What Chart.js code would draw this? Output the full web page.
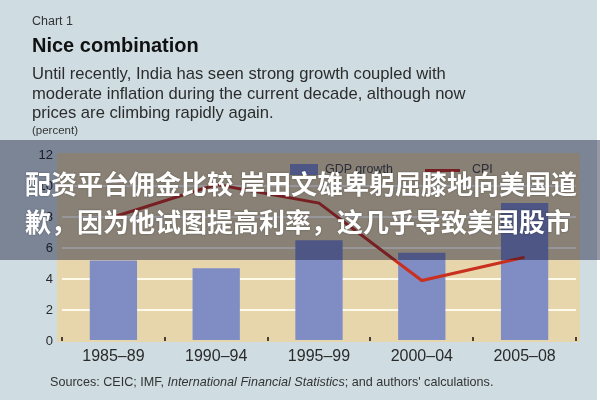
<!DOCTYPE html>
<html>
<head>
<meta charset="utf-8">
<script src="https://cdn.jsdelivr.net/npm/chart.js@4"></script>
<style>
    html, body { margin: 0; padding: 0; background: #ffffff; }
    #frame {
        position: relative;
        width: 597px;
        height: 400px;
        background: #cfdde3;
        font-family: "Liberation Sans", Arial, sans-serif;
        color: #2a2a2a;
        overflow: visible;
    }
    #frame canvas { position: absolute; left: 0; top: 0; }
    .txt { position: absolute; left: 32px; white-space: nowrap; }
    #kicker { top: 14px; font-size: 12.5px; color: #333; }
    #title { top: 34px; font-size: 20px; font-weight: bold; color: #111; }
    #desc { top: 64px; font-size: 16.6px; line-height: 19.5px; color: #2c2c2c; }
    #unit { top: 124px; font-size: 11.5px; color: #333; }
    #sources { top: 375px; left: 50px; font-size: 12.6px; color: #333; }
    #legend { position: absolute; top: 163px; left: 290px; font-size: 12.5px; color: #444; }
    #legend span { position: absolute; white-space: nowrap; }
    #overlay {
        position: absolute;
        left: 0; top: 140px;
        width: 600px; height: 120px;
        background: rgba(8, 12, 42, 0.42);
    }
    .cn {
        position: absolute;
        left: 25px;
        font-family: "Noto Sans CJK SC", sans-serif;
        font-weight: bold;
        font-size: 26px;
        color: #ffffff;
        white-space: nowrap;
        text-shadow: 0 0 2px rgba(0, 0, 0, 0.35);
    }
</style>
</head>
<body>
<div id="frame">
    <canvas id="mainChart" width="600" height="400"></canvas>
    <div class="txt" id="kicker">Chart 1</div>
    <div class="txt" id="title">Nice combination</div>
    <div class="txt" id="desc">Until recently, India has seen strong growth coupled with<br>moderate inflation during the current decade, although now<br>prices are climbing rapidly again.</div>
    <div class="txt" id="unit">(percent)</div>
    <div id="legend">
        <span style="left:0;top:1px;width:28px;height:11px;background:#808cc4"></span>
        <span style="left:35px;top:-1px">GDP growth</span>
        <span style="left:135px;top:6px;width:35px;height:3px;background:#c9301f"></span>
        <span style="left:182px;top:-1px">CPI</span>
    </div>
    <div class="txt" id="sources">Sources: CEIC; IMF, <i>International Financial Statistics</i>; and authors' calculations.</div>
    <div id="overlay">
        <div class="cn" style="top:24px">配资平台佣金比较 岸田文雄卑躬屈膝地向美国道</div>
        <div class="cn" style="top:62px">歉，因为他试图提高利率，这几乎导致美国股市</div>
    </div>
</div>
<script>
const periods = ["1985–89", "1990–94", "1995–99", "2000–04", "2005–08"];
const gdpGrowth = [5.2, 4.7, 6.5, 5.7, 8.9];
const cpi = [8.0, 10.1, 8.9, 3.9, 5.4];
const yTicks = { min: 0, max: 12, step: 2 };

// beige plot panel behind everything
const panelBackground = {
    id: "panelBackground",
    beforeDraw(chart) {
        const { ctx, chartArea } = chart;
        ctx.save();
        ctx.fillStyle = "#e7d6ab";
        ctx.fillRect(chartArea.left - 5, chartArea.top - 2, chartArea.right - chartArea.left + 9, chartArea.bottom - chartArea.top + 3);
        ctx.restore();
    },
};

// small marks between categories on the baseline
const categoryMarks = {
    id: "categoryMarks",
    afterDatasetsDraw(chart) {
        const { ctx, chartArea } = chart;
        const xScale = chart.scales.x;
        ctx.save();
        ctx.fillStyle = "#4a3f33";
        for (let i = 0; i <= periods.length; i++) {
            const x = xScale.getPixelForValue(i - 0.5);
            ctx.fillRect(Math.round(x) - 1, chartArea.bottom - 4, 2, 4);
        }
        ctx.restore();
    },
};

new Chart(document.getElementById("mainChart"), {
    data: {
        labels: periods,
        datasets: [
            {
                type: "line",
                label: "CPI",
                data: cpi,
                borderColor: "#c9301f",
                borderWidth: 3,
                pointRadius: 0,
                tension: 0,
                order: 0,
            },
            {
                type: "bar",
                label: "GDP growth",
                data: gdpGrowth,
                backgroundColor: "#808cc4",
                barPercentage: 0.46,
                categoryPercentage: 1,
                order: 1,
            },
        ],
    },
    options: {
        responsive: false,
        animation: false,
        layout: { padding: { top: 155, right: 24, bottom: 34, left: 0 } },
        plugins: { legend: { display: false }, tooltip: { enabled: false } },
        scales: {
            x: {
                offset: true,
                grid: { display: false, drawTicks: false },
                border: { display: false },
                ticks: { padding: 6, color: "#2a2a2a", font: { family: "Liberation Sans", size: 16 } },
                afterFit: (scale) => { scale.height = 25; },
            },
            y: {
                min: yTicks.min,
                max: yTicks.max,
                border: { display: false },
                grid: {
                    drawTicks: false,
                    lineWidth: 2,
                    color: (c) => (c.tick.value === yTicks.min || c.tick.value === yTicks.max ? "rgba(0,0,0,0)" : "#fffaea"),
                },
                ticks: { stepSize: yTicks.step, padding: 9, color: "#2a2a2a", font: { family: "Liberation Sans", size: 13 } },
                afterFit: (scale) => { scale.width = 62; },
            },
        },
    },
    plugins: [panelBackground, categoryMarks],
});
</script>
</body>
</html>
